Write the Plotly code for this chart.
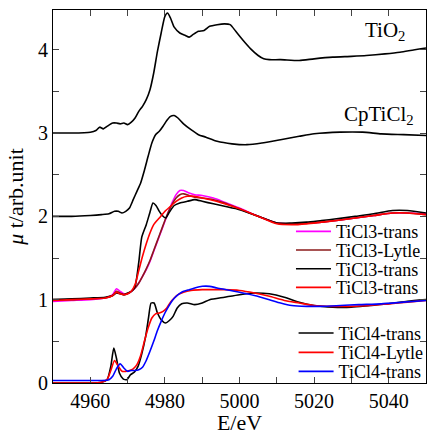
import plotly.graph_objects as go

# ---------------- data ----------------
TiO2_E = [4950, 4955, 4960, 4961.5, 4962.5, 4963.5, 4964.5, 4966, 4967, 4968, 4969, 4970, 4971, 4972, 4973, 4974,
          4975, 4976, 4977, 4978, 4979, 4980, 4980.7, 4981.5, 4982.5, 4984, 4985.5, 4986.5, 4987.5, 4989, 4990.5,
          4992, 4994, 4996, 4997.5, 4999, 5001, 5003, 5005, 5006.5, 5008, 5011, 5016, 5020, 5025, 5030, 5034,
          5039, 5043, 5050]
TiO2_mu = [3.0, 3.0, 3.01, 3.03, 3.07, 3.05, 3.08, 3.12, 3.12, 3.11, 3.12, 3.1, 3.13, 3.18, 3.26, 3.32,
           3.4, 3.52, 3.72, 3.98, 4.2, 4.4, 4.44, 4.38, 4.27, 4.2, 4.17, 4.15, 4.18, 4.22, 4.23,
           4.28, 4.30, 4.31, 4.30, 4.22, 4.11, 4.01, 3.93, 3.89, 3.88, 3.88, 3.87, 3.89, 3.91, 3.92, 3.93,
           3.95, 3.97, 4.02]

Cp_E = [4950, 4955, 4960, 4963, 4965, 4966.5, 4967.5, 4968.5, 4969.5, 4970.5, 4971.5, 4972.5, 4973.5, 4974.5,
        4975.5, 4976.5, 4977.5, 4978.5, 4979.5, 4980.5, 4981.5, 4982.5, 4983.5, 4985, 4987, 4989, 4991, 4994,
        4998, 5002, 5006, 5011, 5016, 5020, 5027, 5033, 5038, 5044, 5050]
Cp_mu = [2.0, 2.0, 2.01, 2.02, 2.03, 2.06, 2.06, 2.04, 2.06, 2.1, 2.2, 2.3, 2.4, 2.55,
         2.72, 2.88, 2.98, 3.02, 3.08, 3.15, 3.2, 3.21, 3.18, 3.11, 3.04, 2.98, 2.95, 2.9,
         2.87, 2.86, 2.88, 2.92, 2.96, 2.99, 3.01, 3.01, 2.99, 2.98, 2.97]

# TiCl3 (offset +1)
T3_E = [4950, 4955, 4960, 4964, 4966, 4967, 4968, 4969, 4970, 4971, 4972, 4973, 4974, 4975, 4976, 4977,
        4978.5, 4980, 4981, 4982, 4983, 4984, 4985, 4986.5, 4988, 4990, 4993, 4996, 5000, 5005, 5010, 5014,
        5018, 5022, 5026, 5031, 5036, 5041, 5045, 5050]
T3m_mu = [0.98, 0.99, 1.0, 1.02, 1.06, 1.13, 1.1, 1.07, 1.07, 1.1, 1.14, 1.2, 1.28, 1.36, 1.46, 1.58,
          1.76, 1.94, 2.06, 2.17, 2.26, 2.31, 2.31, 2.28, 2.26, 2.25, 2.22, 2.17, 2.1, 2.0, 1.92, 1.91,
          1.92, 1.93, 1.95, 1.98, 2.01, 2.04, 2.04, 2.03]
T3d_mu = [1.0, 1.0, 1.01, 1.02, 1.05, 1.1, 1.08, 1.06, 1.07, 1.1, 1.14, 1.2, 1.28, 1.37, 1.47, 1.59,
          1.77, 1.95, 2.06, 2.15, 2.22, 2.26, 2.27, 2.25, 2.23, 2.22, 2.2, 2.16, 2.09, 2.0, 1.92, 1.91,
          1.92, 1.93, 1.95, 1.98, 2.01, 2.04, 2.04, 2.02]
T3k_E = [4950, 4955, 4960, 4964, 4966, 4967, 4968, 4969, 4970, 4971, 4972, 4973, 4973.8, 4975, 4976,
         4976.8, 4977.6, 4978.5, 4979.3, 4980.2, 4981.2, 4982.5, 4984, 4986, 4988, 4990, 4993, 4996, 5000,
         5005, 5010, 5014, 5018, 5022, 5026, 5031, 5036, 5041, 5045, 5050]
T3k_mu = [1.0, 1.01, 1.02, 1.03, 1.05, 1.08, 1.07, 1.06, 1.08, 1.1, 1.16, 1.45, 1.75, 1.9, 2.05,
          2.16, 2.13, 2.06, 2.01, 1.98, 2.05, 2.13, 2.16, 2.18, 2.2, 2.18, 2.15, 2.12, 2.08,
          2.0, 1.92, 1.92, 1.93, 1.95, 1.97, 2.0, 2.03, 2.07, 2.07, 2.04]
T3r_E = [4950, 4955, 4960, 4964, 4966, 4967, 4968, 4969, 4970, 4971, 4972, 4973, 4974, 4975, 4976, 4977,
         4978.5, 4980, 4981.5, 4983, 4984.5, 4986, 4988, 4990, 4993, 4996, 5000, 5005, 5010, 5014, 5018,
         5022, 5026, 5031, 5036, 5041, 5045, 5050]
T3r_mu = [0.99, 1.0, 1.01, 1.02, 1.05, 1.09, 1.07, 1.06, 1.07, 1.1, 1.18, 1.35, 1.52, 1.67, 1.8, 1.9,
          1.98, 2.06, 2.12, 2.18, 2.22, 2.24, 2.24, 2.22, 2.19, 2.15, 2.09, 2.0, 1.91, 1.9, 1.91,
          1.93, 1.95, 1.98, 2.01, 2.04, 2.04, 2.02]

# TiCl4 (offset 0)
T4k_E = [4950, 4955, 4960, 4963, 4964.5, 4965.5, 4966.3, 4967, 4967.8, 4968.8, 4969.8, 4970.8, 4971.8, 4972.8,
         4973.8, 4974.8, 4975.6, 4976.3, 4977.1, 4978, 4979, 4980.2, 4981.2, 4982.2, 4983.3, 4984.5, 4986,
         4988, 4990, 4992, 4996, 5000, 5004, 5008, 5012, 5016, 5020, 5025, 5030, 5035, 5040, 5045, 5050]
T4k_mu = [0.0, 0.0, 0.0, 0.01, 0.04, 0.2, 0.42, 0.3, 0.12, 0.05, 0.04, 0.1, 0.13, 0.2,
          0.35, 0.55, 0.78, 0.96, 0.96, 0.84, 0.76, 0.72, 0.75, 0.8, 0.9, 0.95, 0.96,
          0.94, 0.96, 1.0, 1.03, 1.06, 1.08, 1.07, 1.03, 0.97, 0.93, 0.91, 0.91, 0.93, 0.95, 0.98, 1.0]
T4r_E = [4950, 4955, 4960, 4963, 4964.5, 4965.5, 4966.5, 4967.5, 4968.5, 4969.5, 4970.5, 4971.5, 4972.5,
         4973.5, 4974.5, 4975.5, 4976.5, 4977.5, 4978.5, 4979.5, 4980.5, 4981.5, 4982.5, 4983.5, 4985, 4987,
         4990, 4993, 4996, 5000, 5004, 5008, 5012, 5016, 5020, 5025, 5030, 5035, 5040, 5045, 5050]
T4r_mu = [0.0, 0.0, 0.0, 0.01, 0.04, 0.15, 0.27, 0.2, 0.14, 0.14, 0.15, 0.17, 0.22,
          0.33, 0.5, 0.66, 0.78, 0.83, 0.84, 0.86, 0.9, 0.97, 1.02, 1.06, 1.09, 1.11,
          1.12, 1.12, 1.12, 1.11, 1.08, 1.04, 0.99, 0.96, 0.93, 0.92, 0.92, 0.93, 0.95, 0.97, 0.99]
T4b_E = [4950, 4955, 4960, 4963, 4965, 4966, 4967, 4968, 4969, 4970, 4971, 4972, 4973, 4974, 4975, 4976,
         4977, 4978, 4979, 4980, 4981, 4982, 4983, 4984.5, 4986.5, 4988, 4990, 4992, 4994, 4996.5, 5000,
         5004, 5008, 5011, 5014, 5018, 5022, 5027, 5032, 5038, 5044, 5050]
T4b_mu = [0.03, 0.03, 0.03, 0.03, 0.04, 0.08, 0.17, 0.23, 0.18, 0.14, 0.15, 0.15, 0.16, 0.19, 0.27, 0.38,
          0.5, 0.63, 0.74, 0.84, 0.92, 0.99, 1.04, 1.09, 1.12, 1.14, 1.16, 1.16, 1.14, 1.12, 1.09,
          1.05, 1.0, 0.96, 0.93, 0.92, 0.92, 0.93, 0.94, 0.95, 0.97, 0.99]

X_TICKS = [4960, 4980, 5000, 5020, 5040]
Y_TICKS = [0, 1, 2, 3, 4]

FONT = "Liberation Serif"

fig = go.Figure()

def add(x, y, color, name=None, legend=None):
    fig.add_trace(go.Scatter(
        x=x, y=y, mode="lines", line=dict(color=color, width=1.6, shape="spline", smoothing=0.6),
        name=name, showlegend=name is not None, legend=legend))

add(TiO2_E, TiO2_mu, "black")
add(Cp_E, Cp_mu, "black")
add(T3_E, T3m_mu, "#ff00ff", "TiCl3-trans", "legend")
add(T3_E, T3d_mu, "#8b1a1a", "TiCl3-Lytle", "legend2")
add(T3k_E, T3k_mu, "black", "TiCl3-trans", "legend3")
add(T3r_E, T3r_mu, "#ff0000", "TiCl3-trans", "legend4")
add(T4k_E, T4k_mu, "black", "TiCl4-trans", "legend5")
add(T4r_E, T4r_mu, "#ff0000", "TiCl4-Lytle", "legend6")
add(T4b_E, T4b_mu, "#0000ff", "TiCl4-trans", "legend7")

# plot area: x 53..426, y 10..383
def py2paper(py):
    return (383 - py) / 373.0

legend_rows = {"legend": (0.638, 231.7), "legend2": (0.638, 250.3), "legend3": (0.638, 269.0),
               "legend4": (0.638, 287.7), "legend5": (0.645, 333.3), "legend6": (0.645, 352.7),
               "legend7": (0.645, 371.7)}
leg_layout = {}
for key, (lx, ly) in legend_rows.items():
    leg_layout[key] = dict(x=lx, y=py2paper(ly), xanchor="left", yanchor="middle",
                           bgcolor="rgba(0,0,0,0)", borderwidth=0, itemwidth=35,
                           font=dict(family=FONT, size=18, color="black"))

fig.update_layout(
    template="none",
    width=427, height=435,
    margin=dict(l=53, r=1, t=10, b=52, autoexpand=False),
    plot_bgcolor="white", paper_bgcolor="white",
    font=dict(family=FONT, size=20, color="black"),
    **leg_layout,
    xaxis=dict(range=[4950, 5050], tickvals=X_TICKS, ticks="inside", ticklen=6, tickwidth=1,
               minor=dict(dtick=10, tick0=4950, ticks="inside", ticklen=6, tickwidth=1),
               showline=True, linecolor="black", linewidth=1, mirror="allticks", automargin=False,
               showgrid=False, zeroline=False, tickfont=dict(family=FONT, size=20),
               title=dict(text="E/eV", font=dict(family=FONT, size=22), standoff=4)),
    yaxis=dict(range=[0, 4.476], tickvals=Y_TICKS, ticks="inside", ticklen=6, tickwidth=1,
               minor=dict(dtick=0.5, tick0=0, ticks="inside", ticklen=6, tickwidth=1),
               showline=True, linecolor="black", linewidth=1, mirror="allticks", automargin=False,
               showgrid=False, zeroline=False, tickfont=dict(family=FONT, size=20),
               title=dict(text="<i>μ</i> t/arb.unit", font=dict(family=FONT, size=22), standoff=8)),
    annotations=[
        dict(text="TiO<sub>2</sub>", x=5039, y=4.22, xref="x", yref="y", showarrow=False,
             font=dict(family=FONT, size=21)),
        dict(text="CpTiCl<sub>2</sub>", x=5037.5, y=3.22, xref="x", yref="y", showarrow=False,
             font=dict(family=FONT, size=21)),
    ],
)

fig.write_html("out.html", config={"displayModeBar": False},
               post_script="document.body.style.margin='0';document.body.style.overflow='hidden';")
